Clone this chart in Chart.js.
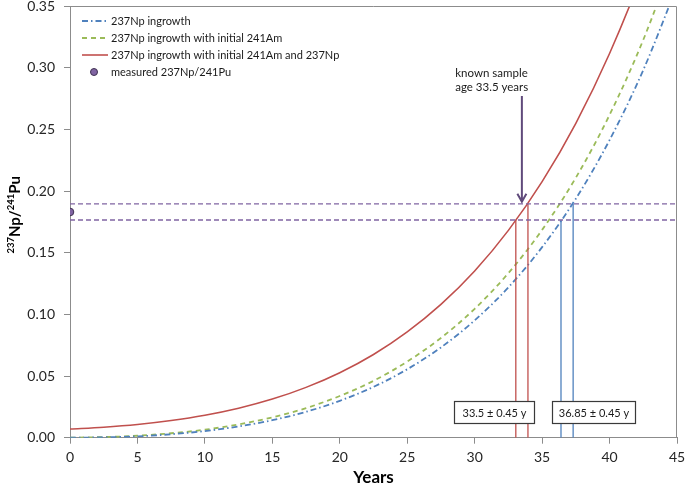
<!DOCTYPE html>
<html>
<head>
<meta charset="utf-8">
<script src="https://cdn.jsdelivr.net/npm/chart.js@4.4.1/dist/chart.umd.min.js"></script>
<style>
  html, body { margin: 0; padding: 0; background: #fff; }
  #wrap { width: 685px; height: 486px; }
</style>
</head>
<body>
<div id="wrap"><canvas id="npChart"></canvas></div>
<script>
(function () {
  'use strict';

  // values
  var years = [0, 2.5, 5, 7.5, 10, 12.5, 15, 17.5, 20, 22.5, 25, 27.5, 30, 32.5, 35, 37.5, 40, 42.5, 45];
  var ingrowth = [0, 0.0003, 0.0011, 0.0028, 0.0054, 0.0091, 0.0142, 0.0210, 0.0299, 0.0412, 0.0555, 0.0732, 0.0951, 0.1219, 0.1545, 0.1938, 0.2413, 0.2981, 0.3661];
  var ingrowthAm = [0, 0.0005, 0.0016, 0.0036, 0.0065, 0.0108, 0.0165, 0.0240, 0.0338, 0.0461, 0.0617, 0.0809, 0.1045, 0.1334, 0.1685, 0.2108, 0.2617, 0.3226, 0.3953];
  var ingrowthAmNp = [0.0070, 0.0085, 0.0107, 0.0139, 0.0182, 0.0239, 0.0313, 0.0408, 0.0527, 0.0675, 0.0858, 0.1081, 0.1352, 0.1681, 0.2076, 0.2549, 0.3115, 0.3788, 0.4588];

  var measuredYear = [0];
  var measuredRatio = [0.183];
  var ratioBand = [0.1765, 0.1895];   // measured ratio +- uncertainty
  var knownAge = [33.05, 33.95];      // 33.5 +- 0.45
  var modelAge = [36.4, 37.3];        // 36.85 +- 0.45
  var xTicks = [0, 5, 10, 15, 20, 25, 30, 35, 40, 45];
  var yTicks = [0, 0.05, 0.10, 0.15, 0.20, 0.25, 0.30, 0.35];

  var seriesNames = ['237Np ingrowth', '237Np ingrowth with initial 241Am', '237Np ingrowth with initial 241Am and 237Np', 'measured 237Np/241Pu'];

  var RED = '#c0504d', GREEN = '#9bbb59', BLUE = '#4f81bd', PURPLE = '#8064a2';
  var FONT = 'Lato, "Open Sans", sans-serif';

  function pts(xs, ys) {
    return xs.map(function (x, i) { return { x: x, y: ys[i] }; });
  }

  function curve(label, ys, color, dash, width) {
    return {
      label: label,
      data: pts(years, ys),
      borderColor: color,
      borderWidth: width,
      borderDash: dash,
      pointRadius: 0,
      cubicInterpolationMode: 'monotone',
      fill: false
    };
  }

  function segment(x0, y0, x1, y1, color, dash, width) {
    return {
      data: [{ x: x0, y: y0 }, { x: x1, y: y1 }],
      borderColor: color,
      borderWidth: width,
      borderDash: dash,
      pointRadius: 0,
      fill: false
    };
  }

  var datasets = [
    segment(0, ratioBand[0], 45, ratioBand[0], PURPLE, [5, 3], 1.3),
    segment(0, ratioBand[1], 45, ratioBand[1], PURPLE, [5, 3], 1.3),
    segment(knownAge[0], 0, knownAge[0], ratioBand[0], RED, [], 1.3),
    segment(knownAge[1], 0, knownAge[1], ratioBand[1], RED, [], 1.3),
    segment(modelAge[0], 0, modelAge[0], ratioBand[0], BLUE, [], 1.3),
    segment(modelAge[1], 0, modelAge[1], ratioBand[1], BLUE, [], 1.3),
    curve(seriesNames[0], ingrowth, BLUE, [6, 3, 1.5, 3], 1.8),
    curve(seriesNames[1], ingrowthAm, GREEN, [5, 4], 1.8),
    curve(seriesNames[2], ingrowthAmNp, RED, [], 1.6),
    {
      label: seriesNames[3],
      data: pts(measuredYear, measuredRatio),
      showLine: false,
      pointRadius: 3.8,
      pointBackgroundColor: PURPLE,
      pointBorderColor: '#3f3151',
      pointBorderWidth: 1
    }
  ];

  // annotation placement (data units)
  var arrow = { x: 33.5, yTop: 0.277, yTip: 0.1913 };
  var note = { x: 28.56, lines: ['known sample', 'age 33.5 years'], y: [0.2957, 0.2843] };
  var boxes = [
    { x0: 28.5, x1: 34.4, y0: 0.0117, y1: 0.0300, text: '33.5 \u00b1 0.45 y' },
    { x0: 35.7, x1: 41.9, y0: 0.0117, y1: 0.0300, text: '36.85 \u00b1 0.45 y' }
  ];

  var overlay = {
    id: 'overlay',
    afterDatasetsDraw: function (chart) {
      var ctx = chart.ctx, xs = chart.scales.x, ys = chart.scales.y, a = chart.chartArea;
      ctx.save();

      // frame on top and right
      ctx.strokeStyle = '#8c8c8c';
      ctx.lineWidth = 1;
      ctx.beginPath();
      ctx.moveTo(a.left, a.top + 0.5);
      ctx.lineTo(a.right - 0.5, a.top + 0.5);
      ctx.lineTo(a.right - 0.5, a.bottom);
      ctx.stroke();

      // arrow
      var ax = xs.getPixelForValue(arrow.x);
      var at = ys.getPixelForValue(arrow.yTop);
      var ab = ys.getPixelForValue(arrow.yTip);
      ctx.strokeStyle = '#604a7b';
      ctx.lineWidth = 2;
      ctx.beginPath();
      ctx.moveTo(ax, at);
      ctx.lineTo(ax, ab - 1);
      ctx.moveTo(ax - 4.5, ab - 8);
      ctx.lineTo(ax, ab);
      ctx.lineTo(ax + 4.5, ab - 8);
      ctx.stroke();

      // note text
      ctx.fillStyle = '#1a1a1a';
      ctx.font = '11.5px ' + FONT;
      ctx.textAlign = 'left';
      ctx.textBaseline = 'middle';
      note.lines.forEach(function (t, i) {
        ctx.fillText(t, xs.getPixelForValue(note.x), ys.getPixelForValue(note.y[i]));
      });

      // result boxes
      boxes.forEach(function (b) {
        var l = Math.round(xs.getPixelForValue(b.x0)) + 0.5;
        var r = Math.round(xs.getPixelForValue(b.x1)) + 0.5;
        var t = Math.round(ys.getPixelForValue(b.y1)) + 0.5;
        var bt = Math.round(ys.getPixelForValue(b.y0)) + 0.5;
        ctx.fillStyle = '#fff';
        ctx.fillRect(l, t, r - l, bt - t);
        ctx.strokeStyle = '#3a3a3a';
        ctx.lineWidth = 1.2;
        ctx.strokeRect(l, t, r - l, bt - t);
        ctx.fillStyle = '#1a1a1a';
        ctx.font = '11px ' + FONT;
        ctx.textAlign = 'center';
        ctx.fillText(b.text, (l + r) / 2, (t + bt) / 2 + 0.5);
      });

      // legend
      var rows = [21, 38, 55, 72];
      ctx.font = '11px ' + FONT;
      ctx.textAlign = 'left';
      ctx.textBaseline = 'middle';
      [0, 1, 2].forEach(function (i) {
        var ds = chart.data.datasets[6 + i];
        ctx.strokeStyle = ds.borderColor;
        ctx.lineWidth = ds.borderWidth;
        ctx.setLineDash(ds.borderDash);
        ctx.beginPath();
        ctx.moveTo(82, rows[i]);
        ctx.lineTo(108, rows[i]);
        ctx.stroke();
        ctx.setLineDash([]);
        ctx.fillStyle = '#1a1a1a';
        ctx.fillText(seriesNames[i], 111, rows[i]);
      });
      ctx.beginPath();
      ctx.arc(94, rows[3], 3.5, 0, Math.PI * 2);
      ctx.fillStyle = PURPLE;
      ctx.fill();
      ctx.strokeStyle = '#3f3151';
      ctx.lineWidth = 1;
      ctx.stroke();
      ctx.fillStyle = '#1a1a1a';
      ctx.fillText(seriesNames[3], 111, rows[3]);

      // y axis title with superscripts
      ctx.translate(20, (a.top + a.bottom) / 2 - 7);
      ctx.rotate(-Math.PI / 2);
      var parts = [['237', true], ['Np/', false], ['241', true], ['Pu', false]];
      var big = 'bold 15px ' + FONT, small = 'bold 9.5px ' + FONT;
      var total = 0;
      parts.forEach(function (p) { ctx.font = p[1] ? small : big; total += ctx.measureText(p[0]).width; });
      var px = -total / 2;
      ctx.fillStyle = '#000';
      ctx.textBaseline = 'alphabetic';
      parts.forEach(function (p) {
        ctx.font = p[1] ? small : big;
        ctx.fillText(p[0], px, p[1] ? -6 : 0);
        px += ctx.measureText(p[0]).width;
      });

      ctx.restore();
    }
  };

  var ctx = document.getElementById('npChart').getContext('2d');
  var npChart = new Chart(ctx, {
    type: 'line',
    data: { datasets: datasets },
    options: {
      responsive: true,
      maintainAspectRatio: false,
      animation: false,
      layout: { padding: { top: 6, right: 8, left: 0, bottom: 0 } },
      plugins: {
        legend: { display: false },
        tooltip: { enabled: false }
      },
      scales: {
        x: {
          type: 'linear',
          min: 0,
          max: 45,
          afterBuildTicks: function (s) { s.ticks = xTicks.map(function (v) { return { value: v }; }); },
          afterFit: function (s) { s.height = 48.3; s.paddingLeft = 0; s.paddingRight = 0; },
          ticks: { color: '#262626', font: { family: FONT, size: 14 }, padding: 5, maxRotation: 0 },
          grid: { drawOnChartArea: false, tickLength: 6, color: '#8c8c8c' },
          border: { color: '#8c8c8c' },
          title: {
            display: true,
            text: 'Years',
            color: '#000',
            font: { family: FONT, size: 17, weight: 'bold', lineHeight: 1 },
            padding: { top: 0, bottom: 0 }
          }
        },
        y: {
          type: 'linear',
          min: 0,
          max: 0.35,
          afterBuildTicks: function (s) { s.ticks = yTicks.map(function (v) { return { value: v }; }); },
          afterFit: function (s) { s.width = 70; s.paddingTop = 0; s.paddingBottom = 0; },
          ticks: {
            color: '#262626',
            font: { family: FONT, size: 14 },
            padding: 9,
            callback: function (v) { return v.toFixed(2); }
          },
          grid: { drawOnChartArea: false, tickLength: 6, color: '#8c8c8c' },
          border: { color: '#8c8c8c' }
        }
      }
    },
    plugins: [overlay]
  });
})();
</script>
</body>
</html>
